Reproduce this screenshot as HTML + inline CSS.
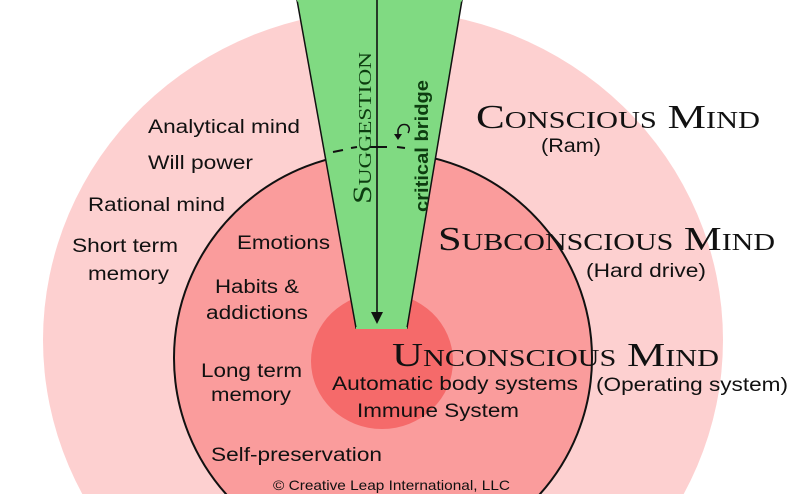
<!DOCTYPE html>
<html><head><style>html,body{margin:0;padding:0;background:#fff;overflow:hidden;width:800px;height:494px;}svg{display:block;}</style></head>
<body>
<svg width="800" height="494" viewBox="0 0 800 494" xmlns="http://www.w3.org/2000/svg">
<rect width="800" height="494" fill="#fff"/>
<ellipse cx="383" cy="340" rx="340" ry="330" fill="#fdd0d0"/>
<ellipse cx="383" cy="358" rx="209" ry="206" fill="#fa9c9c" stroke="#111" stroke-width="2"/>
<ellipse cx="382" cy="361" rx="71" ry="68" fill="#f56a6a"/>
<polygon points="297,0 462,0 407,328 356,328" fill="#80da82" stroke="#111" stroke-width="1.5"/>
<line x1="297" y1="0" x2="462" y2="0" stroke="#80da82" stroke-width="3"/>
<line x1="356" y1="328" x2="407" y2="328" stroke="#80da82" stroke-width="2"/>
<g stroke="#111" stroke-width="2">
<line x1="333" y1="152" x2="343" y2="150"/>
<line x1="351" y1="148" x2="357" y2="147"/>
<line x1="370" y1="147" x2="387" y2="147"/>
<line x1="397" y1="147" x2="405" y2="148"/>
</g>
<line x1="377" y1="0" x2="377" y2="318" stroke="#111" stroke-width="1.6"/>
<polygon points="371,312 383,312 377,324" fill="#111"/>
<path d="M 398 136 L 398 130 Q 400 123 407 125 Q 411 128 408 133" fill="none" stroke="#111" stroke-width="1.5"/>
<polygon points="394,134 402,134 398,140" fill="#111"/>
<g font-family="Liberation Serif, serif" fill="#111" style="font-variant:small-caps">
<text x="476" y="128" font-size="34" textLength="284" lengthAdjust="spacingAndGlyphs">Conscious Mind</text>
<text x="438" y="250" font-size="34" textLength="337" lengthAdjust="spacingAndGlyphs">Subconscious Mind</text>
<text x="392" y="366" font-size="34" textLength="327" lengthAdjust="spacingAndGlyphs">Unconscious Mind</text>
</g>
<g font-family="Liberation Serif, serif" fill="#0d3d10" style="font-variant:small-caps">
<text transform="translate(371,204) rotate(-90)" font-size="26" textLength="152" lengthAdjust="spacingAndGlyphs">Suggestion</text>
</g>
<text transform="translate(428,212) rotate(-90)" font-family="Liberation Sans, sans-serif" font-weight="bold" font-size="18" fill="#0d3d10" textLength="132" lengthAdjust="spacingAndGlyphs">critical bridge</text>
<g font-family="Liberation Sans, sans-serif" font-size="19" fill="#111">
<text x="541" y="152" textLength="60" lengthAdjust="spacingAndGlyphs">(Ram)</text>
<text x="586" y="277" textLength="120" lengthAdjust="spacingAndGlyphs">(Hard drive)</text>
<text x="596" y="391" textLength="192" lengthAdjust="spacingAndGlyphs">(Operating system)</text>
<text x="332" y="390" textLength="246" lengthAdjust="spacingAndGlyphs">Automatic body systems</text>
<text x="357" y="417" textLength="162" lengthAdjust="spacingAndGlyphs">Immune System</text>
<text x="148" y="133" textLength="152" lengthAdjust="spacingAndGlyphs">Analytical mind</text>
<text x="148" y="169" textLength="105" lengthAdjust="spacingAndGlyphs">Will power</text>
<text x="88" y="211" textLength="137" lengthAdjust="spacingAndGlyphs">Rational mind</text>
<text x="72" y="252" textLength="106" lengthAdjust="spacingAndGlyphs">Short term</text>
<text x="88" y="280" textLength="81" lengthAdjust="spacingAndGlyphs">memory</text>
<text x="237" y="249" textLength="93" lengthAdjust="spacingAndGlyphs">Emotions</text>
<text x="215" y="293" textLength="84" lengthAdjust="spacingAndGlyphs">Habits &amp;</text>
<text x="206" y="319" textLength="102" lengthAdjust="spacingAndGlyphs">addictions</text>
<text x="201" y="377" textLength="101" lengthAdjust="spacingAndGlyphs">Long term</text>
<text x="211" y="401" textLength="80" lengthAdjust="spacingAndGlyphs">memory</text>
<text x="211" y="461" textLength="171" lengthAdjust="spacingAndGlyphs">Self-preservation</text>
<text x="273" y="490" font-size="14" textLength="237" lengthAdjust="spacingAndGlyphs">© Creative Leap International, LLC</text>
</g>
</svg>
</body></html>
